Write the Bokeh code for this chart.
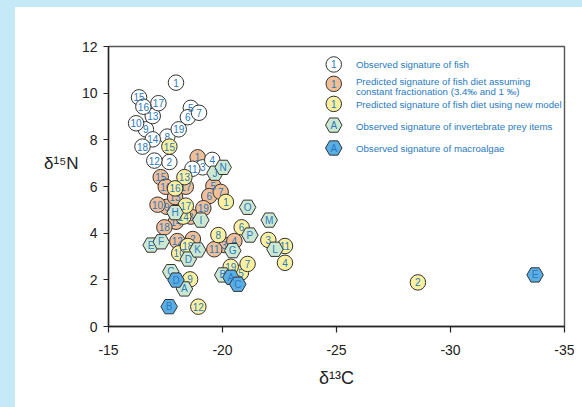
from bokeh.plotting import figure
from bokeh.models import ColumnDataSource, Range1d, FixedTicker, LinearAxis
from bokeh.models import Label
from bokeh.core.properties import value
from bokeh.embed import file_html
from bokeh.resources import INLINE

# ---------------- data ----------------
fish_labels = [str(i) for i in range(1, 20)]

# observed signature of fish (white circles)
fish_obs_x = [-17.96, -17.67, -19.13, -19.55, -18.61, -18.48, -18.97, -17.58, -16.64, -16.21,
              -18.68, -17.01, -16.94, -16.94, -16.34, -16.53, -17.19, -16.49, -18.08]
fish_obs_y = [10.45, 7.05, 6.82, 7.14, 9.37, 8.97, 9.16, 8.14, 8.45, 8.71,
              6.76, 7.11, 9.02, 8.02, 9.82, 9.42, 9.57, 7.71, 8.45]

# predicted diet, constant fractionation (orange circles)
const_x = [-18.91, -18.70, -20.07, -20.52, -19.60, -19.42, -19.92, -18.61, -17.56, -17.15,
           -19.64, -18.02, -17.92, -17.96, -17.29, -17.51, -18.39, -17.45, -19.16]
const_y = [7.25, 3.75, 3.49, 3.66, 6.02, 5.59, 5.77, 4.71, 5.13, 5.22,
           3.31, 3.66, 5.55, 4.49, 6.40, 5.99, 5.99, 4.25, 5.07]

# predicted diet, new model (yellow circles)
model_x = [-20.15, -28.57, -22.01, -22.74, -20.81, -20.84, -21.10, -19.82, -18.58, -18.10,
           -22.74, -18.94, -18.33, -18.28, -17.67, -17.92, -18.39, -18.48, -20.36]
model_y = [5.34, 1.89, 3.71, 2.73, 2.31, 4.25, 2.68, 3.92, 2.02, 3.14,
           3.45, 0.85, 6.40, 4.71, 7.71, 5.92, 5.18, 3.45, 2.56]

# invertebrate prey (green hexagons)
invert_labels = list("ABCDEFGHIJKLMNOP")
invert_x = [-18.33, -20.01, -17.73, -18.50, -16.87, -17.31, -20.45, -17.92,
            -19.05, -19.67, -18.91, -22.30, -22.05, -20.03, -21.10, -21.20]
invert_y = [1.61, 2.21, 2.35, 2.89, 3.49, 3.63, 3.25, 4.88,
            4.56, 6.57, 3.28, 3.31, 4.56, 6.82, 5.11, 3.92]

# macroalgae (blue hexagons)
algae_labels = list("ABCDE")
algae_x = [-20.37, -17.66, -20.67, -17.96, -33.71]
algae_y = [2.11, 0.85, 1.81, 1.99, 2.21]

x_ticks = [-15, -20, -25, -30, -35]
x_tick_labels = ["-15", "-20", "-25", "-30", "-35"]
y_ticks = [0, 2, 4, 6, 8, 10, 12]

legend_texts = [
    ["Observed signature of fish"],
    ["Predicted signature of fish diet assuming", "constant fractionation  (3.4\u2030 and 1 \u2030)"],
    ["Predicted signature of fish diet using new model"],
    ["Observed signature of invertebrate prey items"],
    ["Observed signature of macroalgae"],
]
legend_sym_text = ["1", "1", "1", "A", "A"]

# ---------------- styles ----------------
C_WHITE = "#ffffff"
C_ORANGE = "#f0bf98"
C_YELLOW = "#fbf09f"
C_GREEN = "#cce8d3"
C_BLUE = "#5aaee6"
TXT_BLUE = "#2a7ac0"
EDGE = "#333333"
FONT = "Liberation Sans"

p = figure(width=574, height=399, output_backend="svg", toolbar_location=None,
           x_range=Range1d(-15, -35), y_range=Range1d(0, 12),
           min_border_left=108, min_border_right=10, min_border_top=46, min_border_bottom=73)
p.border_fill_color = None
p.background_fill_color = "#ffffff"
p.outline_line_color = "#555555"
p.outline_line_width = 1.4
p.xgrid.visible = False
p.ygrid.visible = False

for ax in (p.xaxis[0], p.yaxis[0]):
    ax.axis_line_color = "#222222"
    ax.axis_line_width = 1.4
    ax.major_tick_line_color = "#222222"
    ax.major_tick_line_width = 1.2
    ax.major_tick_in = 0
    ax.minor_tick_line_color = None
    ax.major_label_text_font = FONT
    ax.major_label_text_font_size = "14px"
    ax.major_label_text_color = "#222222"

p.xaxis.ticker = FixedTicker(ticks=x_ticks)
p.xaxis.major_label_overrides = dict(zip(x_ticks, x_tick_labels))
p.yaxis.ticker = FixedTicker(ticks=y_ticks)
p.xaxis.major_tick_out = 6
p.yaxis.major_tick_out = 5
p.xaxis.major_label_standoff = 12
p.yaxis.major_label_standoff = 6
p.xaxis.axis_label = "\u03b4\u00b9\u00b3C"
p.xaxis.axis_label_text_font = FONT
p.xaxis.axis_label_text_font_size = "18px"
p.xaxis.axis_label_text_font_style = "normal"
p.xaxis.axis_label_text_color = "#222222"
p.xaxis.axis_label_standoff = 10

# horizontal y title, placed beside the tick labels near y = 7
ytitle = LinearAxis(ticker=FixedTicker(ticks=[7]),
                    major_label_overrides={7: "\u03b4\u00b9\u2075N"},
                    axis_line_color=None, major_tick_line_color=None,
                    minor_tick_line_color=None, major_label_standoff=-6,
                    major_label_text_font=FONT, major_label_text_font_size="17px",
                    major_label_text_color="#222222")
p.add_layout(ytitle, "left")


def series(xs, ys, labels, marker, fill, size):
    src = ColumnDataSource(dict(x=xs, y=ys, t=labels))
    p.scatter("x", "y", source=src, marker=marker, size=size, fill_color=fill,
              line_color=EDGE, line_width=1)
    p.text("x", "y", text="t", source=src, text_font=value(FONT), text_font_size="10px",
           text_color=TXT_BLUE, text_align="center", text_baseline="middle")


series(const_x, const_y, fish_labels, "circle", C_ORANGE, 15.5)
series(fish_obs_x, fish_obs_y, fish_labels, "circle", C_WHITE, 15.5)
series(model_x, model_y, fish_labels, "circle", C_YELLOW, 15.5)
series(invert_x, invert_y, invert_labels, "hex", C_GREEN, 16.5)
series(algae_x, algae_y, algae_labels, "hex", C_BLUE, 16.5)

# ---------------- legend (drawn by hand) ----------------
leg_sym_x = -24.88
leg_txt_x = -25.85
leg_sym_y = [11.23, 10.40, 9.54, 8.63, 7.65]
leg_txt_y = [[11.21], [10.50, 10.08], [9.50], [8.58], [7.65]]
leg_marker = ["circle", "circle", "circle", "hex", "hex"]
leg_fill = [C_WHITE, C_ORANGE, C_YELLOW, C_GREEN, C_BLUE]
leg_size = [15.5, 15.5, 15.5, 16.5, 16.5]

for i in range(5):
    p.scatter([leg_sym_x], [leg_sym_y[i]], marker=leg_marker[i], size=leg_size[i],
              fill_color=leg_fill[i], line_color=EDGE, line_width=1)
    p.text([leg_sym_x], [leg_sym_y[i]], text=[legend_sym_text[i]], text_font=value(FONT),
           text_font_size="10px", text_color=TXT_BLUE, text_align="center",
           text_baseline="middle")
    for line, ty in zip(legend_texts[i], leg_txt_y[i]):
        p.add_layout(Label(x=leg_txt_x, y=ty, text=line, text_font=FONT,
                           text_font_size="9.7px", text_color=TXT_BLUE,
                           text_align="left", text_baseline="middle"))

html = file_html(p, INLINE, title="isotope biplot")
css = ("<style>body{margin:0;}html{min-height:100%;background-color:#ffffff;"
       "background-image:linear-gradient(to right,#c6e9f8 15px,rgba(0,0,0,0) 15px),"
       "linear-gradient(to bottom,#c6e9f8 7px,rgba(0,0,0,0) 7px);"
       "background-repeat:no-repeat;}</style>")
html = html.replace("</head>", css + "</head>", 1)
open("out.html", "w").write(html)
